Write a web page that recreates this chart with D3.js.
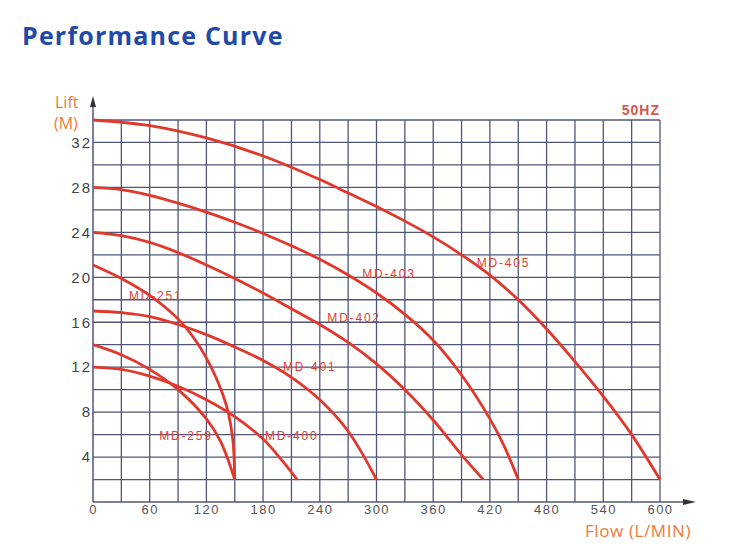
<!DOCTYPE html>
<html><head><meta charset="utf-8">
<script src="https://cdn.jsdelivr.net/npm/d3@7"></script>
<style>body{margin:0;background:#fff}</style>
</head><body>
<svg id="c" width="750" height="557"></svg>
<script>
const xTicks = [0,60,120,180,240,300,360,420,480,540,600];
const yTicks = [4,8,12,16,20,24,28,32];
const seriesNames = ["MD-405","MD-403","MD-402","MD-401","MD-400","MD-259","MD-251"];
const md405 = [[0,34],[60,33.5],[120,32.4],[180,30.8],[240,28.7],[270,27.5],[300,26.3],[330,25.0],[360,23.6],[390,22.0],[420,20.2],[450,18.0],[480,15.4],[510,12.5],[540,9.4],[570,6.0],[600,2.0]];
const md403 = [[0,28],[30,27.8],[60,27.3],[90,26.6],[120,25.8],[150,24.9],[180,23.9],[210,22.8],[240,21.6],[270,20.2],[300,18.6],[330,16.7],[360,14.4],[390,11.3],[420,7.4],[435,5.0],[450,2.0]];
const md402 = [[0,24],[30,23.7],[60,23.1],[90,22.2],[120,21.1],[150,19.9],[180,18.6],[210,17.2],[240,15.8],[270,14.2],[300,12.3],[330,10.0],[360,7.3],[390,4.2],[413,2.0]];
const md401 = [[0,17],[30,16.85],[60,16.5],[90,15.8],[120,14.9],[150,13.8],[180,12.6],[210,11.1],[240,9.1],[270,6.3],[300,2.0]];
const md400 = [[0,12],[30,11.8],[60,11.2],[90,10.3],[120,9.1],[150,7.6],[180,5.6],[200,3.7],[216,2.0]];
const md259 = [[0,14],[30,13.1],[60,11.8],[90,10.0],[120,7.4],[135,5.4],[150,2.0]];
const md251 = [[0,21.1],[30,19.9],[60,18.4],[90,16.3],[110,14.2],[125,12.0],[135,10.1],[143,8.0],[148,5.5],[150,2.0]];
const seriesData = [md405,md403,md402,md401,md400,md259,md251];
const labelPos = [[406,21.2],[285,20.2],[248,16.3],[201,11.9],[182,5.8],[70,5.8],[38,18.3]];

const svg = d3.select("#c");
const x = d3.scaleLinear().domain([0,600]).range([93,660]);
const y = d3.scaleLinear().domain([0,34]).range([502,120]);

// title
svg.append("text").attr("x",22).attr("y",45).text("Performance Curve")
  .attr("font-family","'Open Sans',sans-serif").attr("font-weight","bold")
  .attr("font-size",25).attr("letter-spacing","1.2px").attr("fill","#1f4aa8");

// grid
const gridColor = "#51567a";
const g = svg.append("g");
g.selectAll("line.v").data(d3.range(30,601,30)).join("line")
  .attr("x1",d=>x(d)).attr("x2",d=>x(d)).attr("y1",y(0)).attr("y2",y(34))
  .attr("stroke",gridColor).attr("stroke-width",1.3);
g.selectAll("line.h").data(d3.range(2,34.1,2)).join("line")
  .attr("y1",d=>y(d)).attr("y2",d=>y(d)).attr("x1",x(0)).attr("x2",x(600))
  .attr("stroke",gridColor).attr("stroke-width",1.3);

// axes lines with arrows
svg.append("line").attr("x1",x(0)).attr("x2",x(0)).attr("y1",y(0)).attr("y2",100)
  .attr("stroke",gridColor).attr("stroke-width",1.5);
svg.append("path").attr("d",`M${x(0)-3},${107}L${x(0)},${96}L${x(0)+3},${107}Z`).attr("fill","#333");
svg.append("line").attr("x1",x(0)).attr("x2",688).attr("y1",y(0)).attr("y2",y(0))
  .attr("stroke",gridColor).attr("stroke-width",1.5);
svg.append("path").attr("d",`M${683},${y(0)-3}L${696},${y(0)}L${683},${y(0)+3}Z`).attr("fill","#333");

// tick labels via axes
const xAxis = svg.append("g").attr("transform",`translate(0,${y(0)})`)
  .call(d3.axisBottom(x).tickValues(xTicks).tickSize(0).tickPadding(3));
xAxis.select(".domain").remove();
xAxis.selectAll("text").attr("font-family","'Liberation Sans',Arial,sans-serif")
  .attr("font-size",13).attr("fill","#555").attr("letter-spacing","1.5px");

const yAxis = svg.append("g").attr("transform",`translate(${x(0)},0)`)
  .call(d3.axisLeft(y).tickValues(yTicks).tickSize(0).tickPadding(1));
yAxis.select(".domain").remove();
yAxis.selectAll("text").attr("font-family","'Liberation Sans',Arial,sans-serif")
  .attr("font-size",15).attr("fill","#444").attr("letter-spacing","2px");

// axis titles
const orange = "#f07a3a";
svg.append("text").attr("x",55).attr("y",108).text("Lift")
  .attr("font-family","'Open Sans',sans-serif").attr("font-size",16).attr("fill",orange);
svg.append("text").attr("x",54).attr("y",129).text("(M)")
  .attr("font-family","'Open Sans',sans-serif").attr("font-size",16).attr("fill",orange);
svg.append("text").attr("x",585).attr("y",537).text("Flow (L/MIN)")
  .attr("font-family","'Open Sans',sans-serif").attr("font-size",17).attr("letter-spacing","0.6px").attr("fill",orange);
svg.append("text").attr("x",660).attr("y",115).attr("text-anchor","end").text("50HZ")
  .attr("font-family","'Liberation Sans',Arial,sans-serif").attr("font-size",14).attr("font-weight","bold")
  .attr("fill","#d9534a").attr("letter-spacing","1px");

// curves
const red = "#e2382c";
const line = d3.line().x(d=>x(d[0])).y(d=>y(d[1])).curve(d3.curveCatmullRom.alpha(0.5));
svg.append("g").selectAll("path").data(seriesData).join("path")
  .attr("d",line).attr("fill","none").attr("stroke",red).attr("stroke-width",2.8);

// curve labels
svg.append("g").selectAll("text").data(seriesNames).join("text")
  .attr("x",(d,i)=>x(labelPos[i][0])).attr("y",(d,i)=>y(labelPos[i][1]))
  .text(d=>d).attr("font-family","'Liberation Sans',Arial,sans-serif").attr("font-size",12)
  .attr("letter-spacing","1.8px")
  .attr("fill","#e0402f").attr("dominant-baseline","middle");
</script>
</body></html>
